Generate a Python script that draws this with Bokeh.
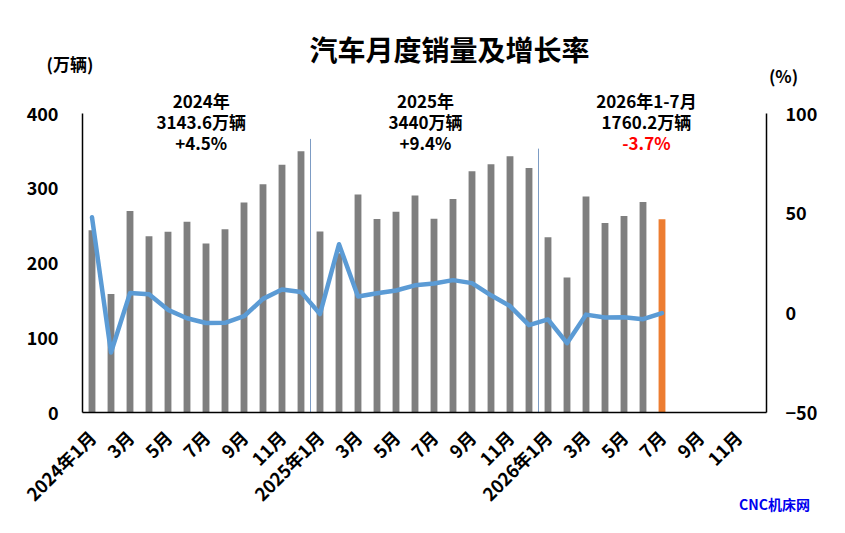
from math import pi
from bokeh.plotting import figure
from bokeh.models import Range1d, LinearAxis, Label, FixedTicker
from bokeh.embed import file_html
from bokeh.resources import INLINE

# ---- data ----
sales_2024 = [243.9, 158.4, 269.4, 235.9, 241.7, 255.2, 226.2, 245.3, 280.9, 305.3, 331.6, 349.6]
sales_2025 = [242.3, 212.9, 291.5, 259.0, 268.6, 290.4, 259.3, 285.7, 322.6, 332.2, 342.9, 327.2]
sales_2026 = [234.6, 180.5, 289.0, 253.4, 262.8, 281.5, 258.4]
growth_2024 = [47.9, -19.9, 9.9, 9.3, 1.5, -2.7, -5.1, -5.0, -1.7, 7.0, 11.7, 10.5]
growth_2025 = [-0.6, 34.4, 8.2, 9.8, 11.2, 13.8, 14.7, 16.4, 14.9, 8.8, 3.4, -6.2]
growth_2026 = [-3.3, -15.2, -0.9, -2.3, -2.2, -3.2, -0.1]
tick_labels = ["2024年1月", "3月", "5月", "7月", "9月", "11月",
               "2025年1月", "3月", "5月", "7月", "9月", "11月",
               "2026年1月", "3月", "5月", "7月", "9月", "11月"]
year_notes = [["2024年", "3143.6万辆", "+4.5%"],
              ["2025年", "3440万辆", "+9.4%"],
              ["2026年1-7月", "1760.2万辆", "-3.7%"]]

sales = sales_2024 + sales_2025 + sales_2026
growth = growth_2024 + growth_2025 + growth_2026
xs = list(range(len(sales)))
n_slots = 36

FONT = "Noto Sans CJK SC"
GRAY = "#7f7f7f"
ORANGE = "#ed7d31"
BLUE = "#5b9bd5"

# ---- canvas geometry: the frame fills the whole canvas, axes are pinned ----
W, H = 845, 533
PLOT_L, PLOT_R = 82, 766      # left / right axis lines
PLOT_T, PLOT_B = 113, 412     # top of value axes / zero line
slot = (PLOT_R - PLOT_L) / n_slots
x0 = -0.5 - PLOT_L / slot
x1 = -0.5 + (W - PLOT_L) / slot
ppu = (PLOT_B - PLOT_T) / 400          # pixels per 万辆
ppp = (PLOT_B - PLOT_T) / 150          # pixels per percent
y0 = -(H - PLOT_B) / ppu
y1 = PLOT_B / ppu
p0 = -50 - (H - PLOT_B) / ppp
p1 = -50 + PLOT_B / ppp

p = figure(width=W, height=H, output_backend="svg", toolbar_location=None,
           x_range=Range1d(x0, x1), y_range=Range1d(y0, y1),
           min_border_left=0, min_border_right=0, min_border_top=0, min_border_bottom=0)
p.extra_y_ranges = {"pct": Range1d(p0, p1)}
p.outline_line_color = None
p.grid.grid_line_color = None
p.background_fill_color = "white"
p.border_fill_color = "white"

colors = [GRAY] * (len(sales) - 1) + [ORANGE]
p.vbar(x=xs, top=sales, width=0.36, color=colors, line_color=None)

# year separators
p.segment(x0=[11.5, 23.5], y0=[0, 0], x1=[11.5, 23.5], y1=[366, 353],
          line_color="#7d9cc4", line_width=1)

p.line(xs, growth, y_range_name="pct", line_width=4.5, line_color=BLUE,
       line_join="round", line_cap="round")

def style(ax, size):
    ax.axis_line_color = "black"
    ax.axis_line_width = 1.5
    ax.major_tick_line_color = None
    ax.minor_tick_line_color = None
    ax.major_tick_out = 0
    ax.major_tick_in = 0
    ax.minor_tick_out = 0
    ax.major_label_text_font = FONT
    ax.major_label_text_font_style = "bold"
    ax.major_label_text_color = "black"
    ax.major_label_text_font_size = size

xa = p.xaxis[0]
style(xa, "18px")
xa.fixed_location = 0
xa.bounds = (-0.5, n_slots - 0.5)
xa.ticker = FixedTicker(ticks=list(range(0, n_slots, 2)))
xa.major_label_overrides = {i * 2: t for i, t in enumerate(tick_labels)}
xa.major_label_orientation = pi / 4
xa.major_label_standoff = 21

ya = p.yaxis[0]
style(ya, "18px")
ya.fixed_location = -0.5
ya.bounds = (0, 400)
ya.ticker = FixedTicker(ticks=[0, 100, 200, 300, 400])
ya.major_label_standoff = 24

ry = LinearAxis(y_range_name="pct", ticker=FixedTicker(ticks=[-50, 0, 50, 100]),
                bounds=(-50, 100), fixed_location=n_slots - 0.5)
style(ry, "18px")
ry.major_label_standoff = 19
p.add_layout(ry, "right")

def lab(x, y, t, size, color="black", units="data"):
    p.add_layout(Label(x=x, y=y, x_units=units, y_units=units, text=t,
                       text_font=FONT, text_font_style="bold",
                       text_font_size=size, text_color=color,
                       text_align="center", text_baseline="middle"))

lab(449, 48, "汽车月度销量及增长率", "28px", units="canvas")
lab(69.5, 63, "(万辆)", "17px", units="canvas")
lab(783, 75, "(%)", "17px", units="canvas")
lab(774, 503, "CNC机床网", "14px", "#0000ee", units="canvas")

note_x = [5.75, 17.55, 29.18]
note_y = [417, 389, 361]
for nx, lines in zip(note_x, year_notes):
    for ny, t in zip(note_y, lines):
        c = "#ff0000" if t.startswith("-") else "black"
        lab(nx, ny, t, "17px", c)

open("out.html", "w").write(file_html(p, INLINE))
